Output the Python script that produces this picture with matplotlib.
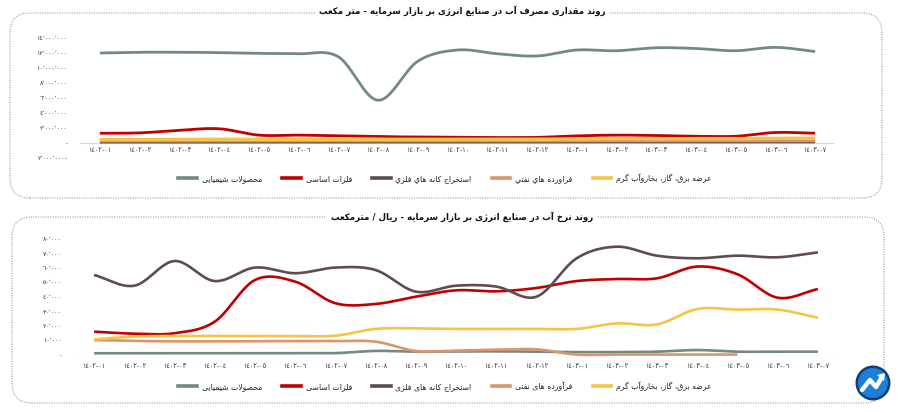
import numpy as np
import matplotlib
matplotlib.use('Agg')
import matplotlib.pyplot as plt
from matplotlib.patches import FancyBboxPatch, Circle, Polygon
from matplotlib.transforms import IdentityTransform
from matplotlib.lines import Line2D

# ---------------- data ----------------
categories = ['١٤٠٢-٠١', '١٤٠٢-٠٢', '١٤٠٢-٠٣', '١٤٠٢-٠٤', '١٤٠٢-٠٥', '١٤٠٢-٠٦',
              '١٤٠٢-٠٧', '١٤٠٢-٠٨', '١٤٠٢-٠٩', '١٤٠٢-١٠', '١٤٠٢-١١', '١٤٠٢-١٢',
              '١٤٠٣-٠١', '١٤٠٣-٠٢', '١٤٠٣-٠٣', '١٤٠٣-٠٤', '١٤٠٣-٠٥', '١٤٠٣-٠٦', '١٤٠٣-٠٧']

title_top = "روند مقداری مصرف آب در صنایع انرژی بر بازار سرمایه - متر مکعب"
title_bottom = "روند نرخ آب در صنایع انرژی بر بازار سرمایه - ریال / مترمکعب"

labels_top = ["محصولات شیمیایی", "فلزات اساسی", "استخراج کانه هاي فلزي",
              "فراورده هاي نفتي", "عرضه برق، گاز، بخاروآب گرم"]
labels_bottom = ["محصولات شیمیایی", "فلزات اساسی", "استخراج کانه های فلزی",
                 "فرآورده های نفتی", "عرضه برق، گاز، بخاروآب گرم"]

# water volume (million cubic metres)
vol_chemical = [12.0, 12.1, 12.1, 12.05, 11.95, 11.9, 11.5, 5.7, 10.9, 12.4, 11.9, 11.6,
                12.4, 12.3, 12.7, 12.6, 12.3, 12.75, 12.2]
vol_metals = [1.3, 1.35, 1.7, 1.9, 1.05, 1.05, 0.95, 0.85, 0.8, 0.75, 0.73, 0.75,
              0.95, 1.05, 1.0, 0.9, 0.9, 1.4, 1.3]
vol_ore = [0.1, 0.1, 0.1, 0.1, 0.1, 0.1, 0.1, 0.1, 0.1, 0.1, 0.1, 0.1,
           0.12, 0.12, 0.12, 0.12, 0.12, 0.12, 0.12]
vol_oil = [0.25, 0.25, 0.25, 0.25, 0.25, 0.25, 0.25, 0.25, 0.25, 0.25, 0.25, 0.25,
           0.27, 0.27, 0.27, 0.27, 0.27, 0.27, 0.27]
vol_power = [0.45, 0.47, 0.48, 0.48, 0.48, 0.48, 0.48, 0.5, 0.5, 0.5, 0.5, 0.5,
             0.55, 0.58, 0.58, 0.58, 0.58, 0.63, 0.63]

# water rate (rial / cubic metre)
rate_chemical = [1200, 1200, 1200, 1200, 1200, 1200, 1300, 2800, 2300, 2500, 2500, 2300,
                 2000, 2000, 2300, 3400, 2300, 2300, 2300]
rate_metals = [16100, 14700, 15000, 23000, 51700, 50600, 35700, 35200, 40200, 44600, 43900, 46200,
               51000, 52400, 52900, 61000, 55700, 39500, 45500]
rate_ore = [55200, 47800, 64800, 51000, 60300, 56400, 60300, 58600, 43700, 47800, 47200, 40200,
            66700, 74700, 68500, 66700, 68500, 67400, 70800]
rate_oil = [10300, 9700, 9400, 9400, 9500, 9600, 9600, 9200, 2800, 3000, 3700, 3900,
            300, 300, 300, 300, 300, np.nan, np.nan]
rate_power = [10800, 12700, 13100, 13100, 13100, 13100, 13300, 18000, 18400, 18000, 18000, 18000,
              18000, 21800, 21100, 31700, 31300, 31300, 25700]

yticks_top = [-2000000, 0, 2000000, 4000000, 6000000, 8000000, 10000000, 12000000, 14000000]
yticks_bottom = [0, 10000, 20000, 30000, 40000, 50000, 60000, 70000, 80000]

colors = ['#738a82', '#c00000', '#5e4b53', '#d9956b', '#f6c445']

# ---------------- arabic shaping helper ----------------
FORMS = {
    'ا': ('\uFE8D', '\uFE8E', None, None), 'آ': ('\uFE81', '\uFE82', None, None),
    'ب': ('\uFE8F', '\uFE90', '\uFE91', '\uFE92'), 'پ': ('\uFB56', '\uFB57', '\uFB58', '\uFB59'),
    'ت': ('\uFE95', '\uFE96', '\uFE97', '\uFE98'), 'ث': ('\uFE99', '\uFE9A', '\uFE9B', '\uFE9C'),
    'ج': ('\uFE9D', '\uFE9E', '\uFE9F', '\uFEA0'), 'چ': ('\uFB7A', '\uFB7B', '\uFB7C', '\uFB7D'),
    'ح': ('\uFEA1', '\uFEA2', '\uFEA3', '\uFEA4'), 'خ': ('\uFEA5', '\uFEA6', '\uFEA7', '\uFEA8'),
    'د': ('\uFEA9', '\uFEAA', None, None), 'ذ': ('\uFEAB', '\uFEAC', None, None),
    'ر': ('\uFEAD', '\uFEAE', None, None), 'ز': ('\uFEAF', '\uFEB0', None, None),
    'ژ': ('\uFB8A', '\uFB8B', None, None),
    'س': ('\uFEB1', '\uFEB2', '\uFEB3', '\uFEB4'), 'ش': ('\uFEB5', '\uFEB6', '\uFEB7', '\uFEB8'),
    'ص': ('\uFEB9', '\uFEBA', '\uFEBB', '\uFEBC'), 'ض': ('\uFEBD', '\uFEBE', '\uFEBF', '\uFEC0'),
    'ط': ('\uFEC1', '\uFEC2', '\uFEC3', '\uFEC4'), 'ظ': ('\uFEC5', '\uFEC6', '\uFEC7', '\uFEC8'),
    'ع': ('\uFEC9', '\uFECA', '\uFECB', '\uFECC'), 'غ': ('\uFECD', '\uFECE', '\uFECF', '\uFED0'),
    'ف': ('\uFED1', '\uFED2', '\uFED3', '\uFED4'), 'ق': ('\uFED5', '\uFED6', '\uFED7', '\uFED8'),
    'ک': ('\uFB8E', '\uFB8F', '\uFB90', '\uFB91'), 'ك': ('\uFED9', '\uFEDA', '\uFEDB', '\uFEDC'),
    'گ': ('\uFB92', '\uFB93', '\uFB94', '\uFB95'),
    'ل': ('\uFEDD', '\uFEDE', '\uFEDF', '\uFEE0'), 'م': ('\uFEE1', '\uFEE2', '\uFEE3', '\uFEE4'),
    'ن': ('\uFEE5', '\uFEE6', '\uFEE7', '\uFEE8'), 'ه': ('\uFEE9', '\uFEEA', '\uFEEB', '\uFEEC'),
    'و': ('\uFEED', '\uFEEE', None, None),
    'ی': ('\uFBFC', '\uFBFD', '\uFBFE', '\uFBFF'), 'ي': ('\uFEF1', '\uFEF2', '\uFEF3', '\uFEF4'),
}
LAMALEF = {'ا': ('\uFEFB', '\uFEFC'), 'آ': ('\uFEF5', '\uFEF6')}


def shape(text):
    chars = list(text)
    out = []
    i = 0
    n = len(chars)
    while i < n:
        c = chars[i]
        if c not in FORMS:
            out.append(c)
            i += 1
            continue
        prev = chars[i - 1] if i > 0 else None
        prev_joins = prev in FORMS and FORMS[prev][2] is not None
        if c == 'ل' and i + 1 < n and chars[i + 1] in LAMALEF:
            iso, fin = LAMALEF[chars[i + 1]]
            out.append(fin if prev_joins else iso)
            i += 2
            continue
        nxt = chars[i + 1] if i + 1 < n else None
        next_is_letter = nxt in FORMS
        iso, fin, ini, med = FORMS[c]
        if prev_joins:
            out.append(med if (next_is_letter and med is not None) else fin)
        else:
            out.append(ini if (next_is_letter and ini is not None) else iso)
        i += 1
    return ''.join(out)[::-1]


AR_DIGITS = str.maketrans('0123456789,', '٠١٢٣٤٥٦٧٨٩٬')


def fmt_tick(v):
    if v == 0:
        return '-'
    s = f"{abs(int(v)):,}".translate(AR_DIGITS)
    return s + '-' if v < 0 else s


def smooth(y, n=24):
    """Smoothed (Catmull-Rom) rendering path through the data points."""
    y = np.asarray(y, dtype=float)
    valid = ~np.isnan(y)
    runs, cur = [], []
    for i in range(len(y)):
        if valid[i]:
            cur.append(i)
        elif cur:
            runs.append(cur)
            cur = []
    if cur:
        runs.append(cur)
    xs_all, ys_all = [], []
    for run in runs:
        xr = np.array(run, dtype=float)
        yr = y[run]
        m = len(yr)
        t = np.zeros(m)
        for k in range(m):
            if k == 0:
                t[k] = yr[1] - yr[0]
            elif k == m - 1:
                t[k] = yr[-1] - yr[-2]
            else:
                t[k] = (yr[k + 1] - yr[k - 1]) / 2
        for k in range(m - 1):
            s = np.linspace(0, 1, n, endpoint=(k == m - 2))
            h00 = 2 * s**3 - 3 * s**2 + 1
            h10 = s**3 - 2 * s**2 + s
            h01 = -2 * s**3 + 3 * s**2
            h11 = s**3 - s**2
            xs_all.append(xr[k] + s)
            ys_all.append(h00 * yr[k] + h10 * t[k] + h01 * yr[k + 1] + h11 * t[k + 1])
        xs_all.append(np.array([np.nan])); ys_all.append(np.array([np.nan]))
    return np.concatenate(xs_all), np.concatenate(ys_all)


# ---------------- figure ----------------
plt.rcParams['font.family'] = ['DejaVu Sans']
W, H = 900, 413
fig = plt.figure(figsize=(9, 4.13), dpi=100)

def fx(px):
    return px / W

def fy(py):
    return 1 - py / H

x = np.arange(len(categories))

# frames
for (x0, y0, x1, y1) in [(10, 13, 882, 198), (12, 217, 884, 403)]:
    box = FancyBboxPatch((x0, H - y1), x1 - x0, y1 - y0,
                         boxstyle='round,pad=0,rounding_size=20',
                         transform=IdentityTransform(), fill=False,
                         ec='#9d9d9d', lw=0.8, ls=(0, (1, 1.2)), zorder=0.5)
    fig.add_artist(box)

tick_color = '#333333'

# ---- top axes ----
ax1 = fig.add_axes([fx(80), fy(158), fx(835) - fx(80), fy(38) - fy(158)])
ax1.set_facecolor('none')
ax1.set_xlim(-0.5, 18.5)
ax1.set_ylim(-2000000, 14000000)
ax1.axhline(0, color='#dcdcdc', lw=0.8, zorder=1)
top_series = [vol_chemical, vol_metals, vol_ore, vol_oil, vol_power]
top_lw = [2.0, 2.0, 1.8, 1.8, 2.4]
for k in [2, 3, 4, 1, 0]:
    xs, ys = smooth(np.array(top_series[k]) * 1e6)
    ax1.plot(xs, ys, color=colors[k], lw=top_lw[k], solid_capstyle='butt', zorder=2 + k * 0.1)
ax1.set_xticks(x)
ax1.set_xticklabels(categories)
ax1.set_yticks(yticks_top)
ax1.set_yticklabels([fmt_tick(v) for v in yticks_top])
ax1.tick_params(axis='x', length=0, pad=-8, labelsize=4.7, labelcolor=tick_color)
ax1.tick_params(axis='y', length=0, pad=9, labelsize=4.5, labelcolor=tick_color)
for sp in ax1.spines.values():
    sp.set_visible(False)

# ---- bottom axes ----
ax2 = fig.add_axes([fx(74), fy(355), fx(838) - fx(74), fy(239) - fy(355)])
ax2.set_facecolor('none')
ax2.set_xlim(-0.5, 18.5)
ax2.set_ylim(0, 80000)
ax2.axhline(0, color='#dcdcdc', lw=0.8, zorder=1)
bot_series = [rate_chemical, rate_metals, rate_ore, rate_oil, rate_power]
for k in [0, 3, 4, 2, 1]:
    xs, ys = smooth(bot_series[k])
    ax2.plot(xs, ys, color=colors[k], lw=1.9, solid_capstyle='butt', zorder=2 + k * 0.1,
             clip_on=False)
ax2.set_xticks(x)
ax2.set_xticklabels(categories)
ax2.set_yticks(yticks_bottom)
ax2.set_yticklabels([fmt_tick(v) for v in yticks_bottom])
ax2.tick_params(axis='x', length=0, pad=6, labelsize=4.7, labelcolor=tick_color)
ax2.tick_params(axis='y', length=0, pad=9, labelsize=4.5, labelcolor=tick_color)
for sp in ax2.spines.values():
    sp.set_visible(False)

# ---- titles ----
fig.text(fx(462), fy(11), shape(title_top), ha='center', va='center', fontsize=6.2,
         weight='bold', color='#111111', zorder=5, bbox=dict(fc='white', ec='none', pad=3))
fig.text(fx(462), fy(217), shape(title_bottom), ha='center', va='center', fontsize=6.2,
         weight='bold', color='#111111', zorder=5, bbox=dict(fc='white', ec='none', pad=3))

# ---- legends ----
def make_legend(labels, ypx):
    handles = [Line2D([0], [0], color=colors[k], lw=2.6) for k in range(5)]
    fig.legend(handles, [shape(l) for l in labels], loc='center',
               bbox_to_anchor=(fx(445), fy(ypx)), ncol=5, frameon=False,
               fontsize=5.6, handlelength=2.4, handletextpad=0.6, columnspacing=2.6,
               labelcolor='#222222')

make_legend(labels_top, 178)
make_legend(labels_bottom, 386)

# ---- logo ----
cx, cy = 873, H - 383
fig.add_artist(Circle((cx, cy), 17.5, transform=IdentityTransform(), fc='#0d3f7a', ec='none', zorder=6))
fig.add_artist(Circle((cx, cy), 15, transform=IdentityTransform(), fc='#1e7fd6', ec='none', zorder=6))
fig.add_artist(Line2D([cx - 11, cx - 3, cx + 3, cx + 9], [cy - 7, cy + 3, cy - 4, cy + 6],
                      transform=IdentityTransform(), color='white', lw=3.2, zorder=7,
                      solid_capstyle='round', solid_joinstyle='round'))
fig.add_artist(Polygon([[cx + 12, cy + 10], [cx + 4, cy + 8], [cx + 11, cy + 2]], closed=True,
                       transform=IdentityTransform(), fc='white', ec='none', zorder=7))

fig.savefig('out.png', dpi=100, facecolor='white')
